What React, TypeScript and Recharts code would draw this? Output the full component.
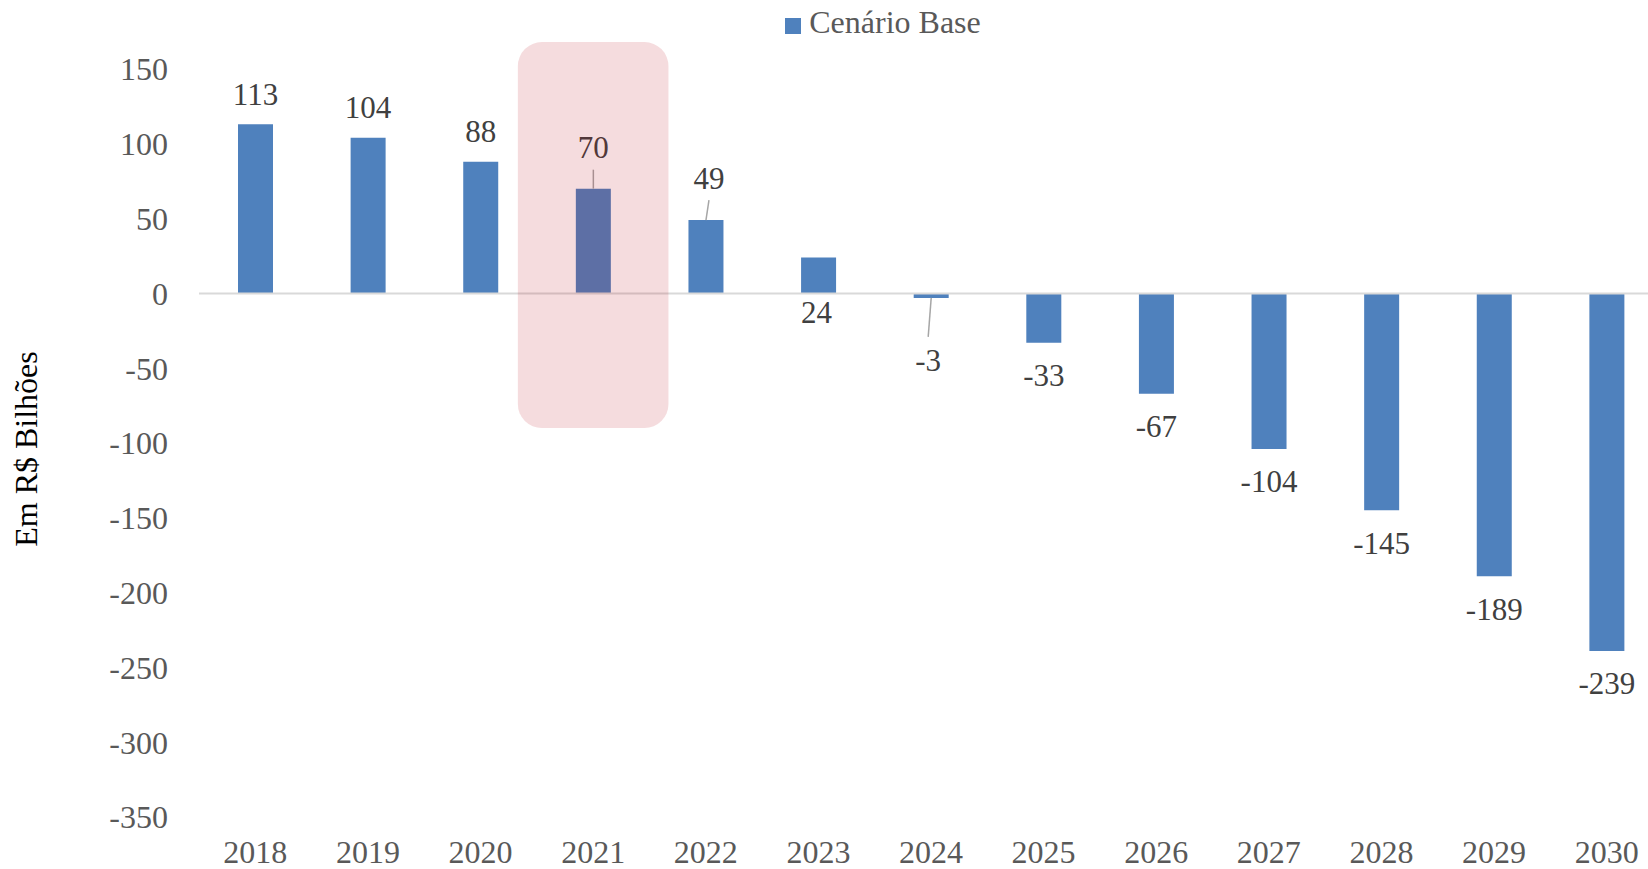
import {
    BarChart,
    Bar,
    XAxis,
    YAxis,
    Legend,
    LabelList,
    ReferenceLine,
    ReferenceArea,
} from 'recharts'

const years = ['2018', '2019', '2020', '2021', '2022', '2023', '2024', '2025', '2026', '2027', '2028', '2029', '2030']
const baseScenario = [113, 104, 88, 70, 49, 24, -3, -33, -67, -104, -145, -189, -239]
const yTicks = [150, 100, 50, 0, -50, -100, -150, -200, -250, -300, -350]

const highlightYear = '2021'
const highlightTop = 168
const highlightBottom = -90

const data = years.map((year, i) => ({ year, value: baseScenario[i] }))

const FONT = '"Liberation Serif", "DejaVu Serif", serif'
const BLUE = '#4F81BD'

// manual label placement, mimics the moved labels in the original deck
const labelTweak: Record<string, { gap?: number; dx?: number; leader?: boolean; under?: boolean }> = {
    '2021': { gap: 41, leader: true },
    '2022': { gap: 42, dx: 3, leader: true },
    '2023': { under: true, gap: 19, dx: -2 },
    '2024': { gap: 63, dx: -3, leader: true },
}

function BarValueLabel(props: any) {
    const vb = props.viewBox ?? props
    const x = Number(vb.x ?? props.x)
    const y = Number(vb.y ?? props.y)
    const w = Number(vb.width ?? props.width)
    const h = Number(vb.height ?? props.height)
    const value = Number(props.value)
    const year = years[props.index] ?? ''
    const tw = labelTweak[year] ?? {}
    const top = Math.min(y, y + h)
    const bottom = Math.max(y, y + h)
    const cx = x + w / 2
    const lx = cx + (tw.dx ?? 0)
    let cy: number
    if (value >= 0 && !tw.under) {
        cy = top - (tw.gap ?? 30)
    } else {
        cy = bottom + (tw.gap ?? 33)
    }
    let leader = null
    if (tw.leader) {
        if (value >= 0) {
            leader = <line x1={cx} y1={top} x2={lx} y2={cy + 22} stroke="#A6A6A6" strokeWidth={1.5} />
        } else {
            leader = <line x1={cx} y1={bottom} x2={lx} y2={cy - 24} stroke="#A6A6A6" strokeWidth={1.5} />
        }
    }
    return (
        <g>
            {leader}
            <text x={lx} y={cy + 10.5} textAnchor="middle" fill="#404040" fontSize={31} fontFamily={FONT}>
                {String(value)}
            </text>
        </g>
    )
}

function YTitle(props: any) {
    const vb = props.viewBox ?? { x: 0, y: 69, width: 199, height: 748 }
    const cx = vb.x + 26
    const cy = vb.y + vb.height / 2 + 6
    return (
        <text
            x={cx}
            y={cy}
            transform={`rotate(-90 ${cx} ${cy})`}
            textAnchor="middle"
            dominantBaseline="central"
            fill="#000"
            fontSize={32}
            fontFamily={FONT}
        >
            Em R$ Bilhões
        </text>
    )
}

function HighlightBox(props: any) {
    const { x, y, width, height } = props
    const pad = 19
    return (
        <rect
            x={x - pad}
            y={y}
            width={width + pad * 2}
            height={height}
            rx={24}
            ry={24}
            fill="#B80816"
            fillOpacity={0.14}
        />
    )
}

export default function App() {
    return (
        <div
            style={{
                position: 'fixed',
                left: 0,
                top: 0,
                width: 1648,
                height: 869,
                overflow: 'hidden',
                background: '#fff',
                fontFamily: FONT,
            }}
        >
            <BarChart width={1680} height={869} data={data} margin={{ top: 69, right: 17, bottom: 0, left: 0 }}>
                <XAxis
                    dataKey="year"
                    axisLine={false}
                    tickLine={false}
                    height={52}
                    tickMargin={17}
                    interval={0}
                    tick={{ fill: '#595959', fontSize: 32, fontFamily: FONT }}
                />
                <YAxis
                    domain={[-350, 150]}
                    ticks={yTicks}
                    width={199}
                    axisLine={false}
                    tickLine={false}
                    tickMargin={25}
                    tick={{ fill: '#595959', fontSize: 32, fontFamily: FONT }}
                    label={{ content: <YTitle /> }}
                />
                <ReferenceLine y={0} stroke="#D9D9D9" strokeWidth={2} />
                <Legend
                    layout="horizontal"
                    verticalAlign="middle"
                    align="center"
                    iconType="square"
                    iconSize={16}
                    wrapperStyle={{ top: 4, left: 728, width: 320, fontSize: 32, fontFamily: FONT }}
                    formatter={(value) => <span style={{ color: '#595959', marginLeft: 4 }}>{value}</span>}
                />
                <Bar dataKey="value" name="Cenário Base" fill={BLUE} barSize={35} isAnimationActive={false}>
                    <LabelList dataKey="value" content={<BarValueLabel />} />
                </Bar>
                <ReferenceArea
                    x1={highlightYear}
                    x2={highlightYear}
                    y1={highlightBottom}
                    y2={highlightTop}
                    ifOverflow="visible"
                    shape={<HighlightBox />}
                    zIndex={2100}
                />
            </BarChart>
        </div>
    )
}
